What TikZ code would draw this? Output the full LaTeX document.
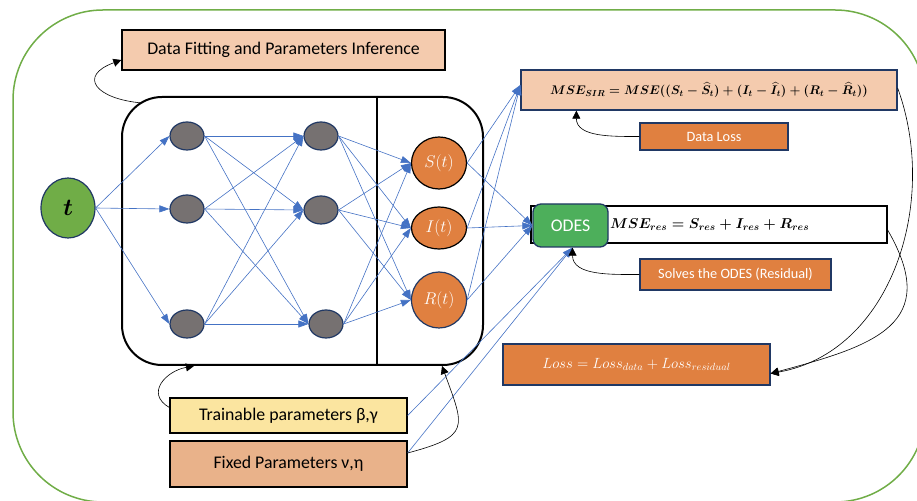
\documentclass[tikz,border=0pt]{standalone}
\usepackage{fix-cm}
\usepackage{amsmath}
\usepackage{amssymb}
\usepackage{fontspec}
\setmainfont{Carlito}
\usetikzlibrary{calc}
\usetikzlibrary{arrows.meta}
\usetikzlibrary{shapes.geometric}

\definecolor{frameGreen}{RGB}{112,173,71}
\definecolor{odesGreen}{RGB}{77,175,91}
\definecolor{peach}{RGB}{244,203,174}
\definecolor{lossOrange}{RGB}{224,128,64}
\definecolor{paramYellow}{RGB}{251,229,160}
\definecolor{paramTan}{RGB}{233,178,138}
\definecolor{neuronGray}{RGB}{118,113,113}
\definecolor{navy}{RGB}{32,56,100}
\definecolor{linkBlue}{RGB}{68,114,196}

\tikzset{
	box/.style={draw=navy, line width=1.3pt, inner sep=2pt, font=\fontsize{17.8}{20}\selectfont},
	lossbox/.style={box, fill=lossOrange, text=white, font=\fontsize{14.3}{16}\selectfont},
	neuron/.style={ellipse, draw=navy, line width=1.2pt, fill=neuronGray, minimum width=34pt, minimum height=28pt},
	output/.style={ellipse, draw=black, line width=1.2pt, fill=lossOrange, text=white, minimum width=55pt, font=\fontsize{17}{18}\selectfont},
	link/.style={linkBlue, line width=0.6pt, -{Triangle[length=10pt,width=7pt]}},
	feedback/.style={black, line width=0.6pt, -{Triangle[length=8pt,width=8pt]}},
}

\begin{document}
\begin{tikzpicture}[x=1pt,y=1pt]
	\useasboundingbox (0,0) rectangle (917,500);
	% outer frame, runs off the right and bottom edges
	\draw[frameGreen, line width=1.5pt, rounded corners=90pt] (13,-2) rectangle (925,490);

	\node[box, fill=peach, draw=black, minimum width=323pt, minimum height=40pt] (fit) at (283.5,450) {Data Fitting and Parameters Inference};

	% network frame with the output column split off
	\node[draw, line width=2pt, rounded corners=40pt, minimum width=361pt, minimum height=268pt] (net) at (302.5,269) {};
	\coordinate (split) at (377,269);
	\draw[line width=2pt] (split |- net.north) -- (split |- net.south);
	\coordinate (netTL) at ($ (net.north west) + (21,-7) $);
	\coordinate (netB1) at ($ (net.south west) + (73,0) $);
	\coordinate (netB2) at ($ (net.south west) + (321,0) $);

	% layers
	\node[ellipse, draw=navy, line width=1.2pt, fill=frameGreen, minimum width=54pt, minimum height=60pt, font=\fontsize{24}{24}\selectfont] (t) at (68,292) {$\boldsymbol{t}$};
	\node[neuron] (hA1) at (187,364) {};
	\node[neuron] (hA2) at (187,291) {};
	\node[neuron] (hA3) at (187,176) {};
	\node[neuron] (hB1) at (321,364) {};
	\node[neuron] (hB2) at (321,290) {};
	\node[neuron] (hB3) at (326,176) {};
	\node[output, minimum height=52pt] (S) at (439,337) {$S(t)$};
	\node[output, minimum height=42pt] (I) at (439,272) {$I(t)$};
	\node[output, draw=navy, minimum height=56pt] (R) at (439,200) {$R(t)$};

	\foreach \i in {1,2,3} \draw[link] (t.east) -- (hA\i.west);
	\foreach \i in {1,2,3}
		\foreach \j in {1,2,3} \draw[link] (hA\i.east) -- (hB\j.west);
	\foreach \i in {1,2,3}
		\foreach \o in {S,I,R} \draw[link] (hB\i.east) -- (\o.west);

	% losses
	\node[box, fill=peach, minimum width=376pt, minimum height=40pt, font=\fontsize{12.5}{16}\selectfont\boldmath] (mse) at (709,410) {$MSE_{SIR} = MSE((S_t - \widehat{S}_t) + (I_t - \widehat{I}_t) + (R_t - \widehat{R}_t))$};
	\node[lossbox, minimum width=148pt, minimum height=27pt] (dataloss) at (714,363.5) {Data Loss};
	\node[box, fill=white, draw=black, text width=352pt, align=left, minimum height=37pt, font=\fontsize{14.3}{18}\selectfont\boldmath] (mseres) at (709,275.5) {\hspace*{77pt}$MSE_{res} = S_{res} + I_{res} + R_{res}$};
	\node[box, fill=odesGreen, text=white, rounded corners=8pt, minimum width=75pt, minimum height=43pt] (odes) at (570.5,274.5) {ODES};
	\node[lossbox, minimum width=191pt, minimum height=31pt] (solves) at (735.5,225.5) {Solves the ODES (Residual)};
	\node[lossbox, minimum width=267pt, minimum height=41pt, font=\fontsize{14.8}{16}\selectfont] (loss) at (636.5,135.5) {$Loss = Loss_{data} + Loss_{residual}$};
	\coordinate (mseBelow) at ($ (mse.south west) + (56,0) $);

	% parameters
	\node[box, fill=paramYellow, draw=black, minimum width=237pt, minimum height=35pt] (train) at (288.5,84.5) {Trainable parameters β,γ};
	\node[box, fill=paramTan, draw=black, minimum width=237pt, minimum height=46pt] (fixed) at (288.5,36) {Fixed Parameters ν,η};

	\foreach \o in {S,I,R} {
		\draw[link] (\o.east) -- ([yshift=5pt]mse.west);
		\draw[link] (\o.east) -- (odes.west);
	}
	\draw[link] (train.east) -- ([xshift=2pt]odes.south);
	\draw[link] ([yshift=11pt]fixed.east) -- ([xshift=2pt]odes.south);

	\draw[feedback] (netTL) to[out=175,in=200,looseness=2.5] ([yshift=-10pt]fit.west);
	\draw[feedback] (dataloss.west) to[out=180,in=-90] (mseBelow);
	\draw[feedback] (solves.west) to[out=180,in=-90] ([xshift=2pt]odes.south);
	\draw[feedback] ([yshift=2pt]mse.east) to[out=-70,in=10] ([yshift=-9pt]loss.east);
	\draw[feedback] ([yshift=-5.5pt]mseres.east) to[out=-60,in=15,looseness=1.5] ([yshift=-9pt]loss.east);
	\draw[feedback] ([yshift=8pt]train.west) to[out=150,in=190,looseness=1.5] (netB1);
	\draw[feedback] ([yshift=11pt]fixed.east) to[out=15,in=-70,looseness=1.8] (netB2);
\end{tikzpicture}
\end{document}
